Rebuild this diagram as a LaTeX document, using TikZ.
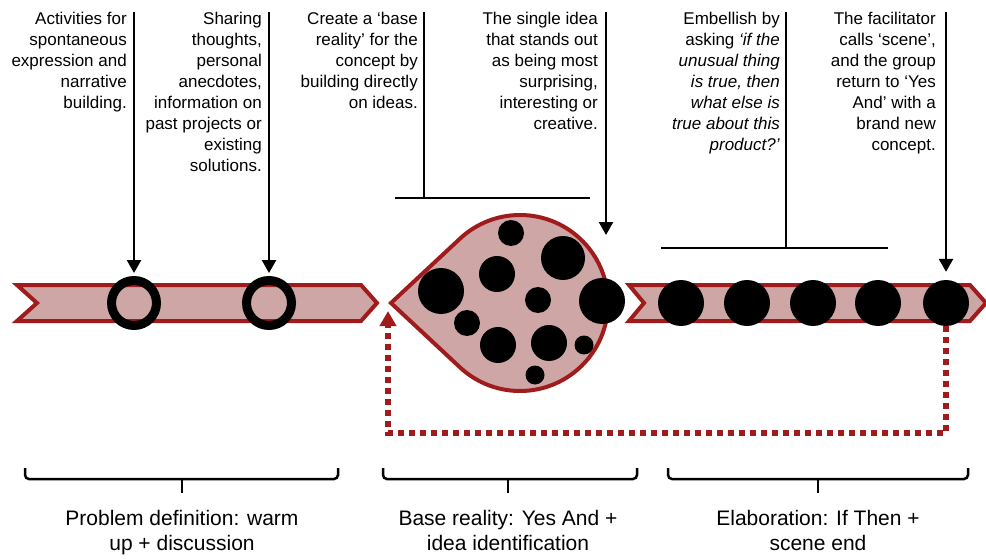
\documentclass[tikz,border=0pt]{standalone}
\usepackage{fontspec}
\setmainfont{Liberation Sans}
\usepackage{xcolor}
\usetikzlibrary{arrows.meta, positioning, calc}
\definecolor{stagered}{RGB}{160,28,28}
\definecolor{stagefill}{RGB}{206,166,166}

\begin{document}
\begin{tikzpicture}[
    x=1pt, y=-1pt,
    >={Triangle[width=14pt,length=13pt]},
    note/.style={align=right, inner sep=0pt, font=\fontsize{17}{21}\selectfont},
    phase/.style={align=center, inner sep=0pt, font=\fontsize{21}{25}\selectfont},
    pointer/.style={draw=black, line width=2.5pt},
    band/.style={draw=stagered, fill=stagefill, line width=4pt, line join=miter},
    ring/.style={circle, draw=black, line width=9pt, minimum size=45pt, inner sep=0pt},
    idea/.style={circle, fill=black, minimum size=46pt, inner sep=0pt},
    brace/.style={draw=black, line width=2.5pt, rounded corners=4pt},
    return/.style={draw=stagered, line width=5.5pt, dash pattern=on 5.5pt off 5.5pt, -{Triangle[width=16pt,length=15pt]}}
]
    \useasboundingbox (0,0) rectangle (986,559);

    % ==================== BANDS ====================
    % Problem definition band
    \draw[band] (17,285) -- (361,285) -- (377,303) -- (361,321) -- (17,321) -- (37,303) -- cycle;
    % Elaboration band
    \draw[band] (629,285) -- (970,285) -- (986,303) -- (970,321) -- (629,321) -- (644,303) -- cycle;

    % Base reality drop
    \coordinate (dropc) at (520,303);
    \coordinate (dropt) at (391,303);
    \draw[band] (dropt) -- ($(dropc)+(133:88)$) arc[start angle=133, end angle=-133, radius=88] -- cycle;

    % Ideas in the drop
    \fill (511,233) circle[radius=13];
    \fill (563,258) circle[radius=22];
    \fill (497,274) circle[radius=18];
    \fill (441,291) circle[radius=23];
    \fill (538,300) circle[radius=13];
    \fill (602,301) circle[radius=23];
    \fill (467,323) circle[radius=13];
    \fill (498,345) circle[radius=18];
    \fill (549,343) circle[radius=18];
    \fill (584,345) circle[radius=9.5];
    \fill (535,375) circle[radius=9.5];

    % ==================== STAGES ====================
    \node[ring] (r1) at (134,303) {};
    \node[ring] (r2) at (269,303) {};
    \node[idea] (d1) at (681,303) {};
    \node[idea] (d2) at (747,303) {};
    \node[idea] (d3) at (813,303) {};
    \node[idea] (d4) at (878,303) {};
    \node[idea] (d5) at (946,303) {};

    % ==================== NOTES ====================
    \coordinate (c1) at (134,12);
    \coordinate (c2) at (269,12);
    \coordinate (c3) at (424,12);
    \coordinate (c4) at (606,12);
    \coordinate (c5) at (786,12);
    \coordinate (c6) at (946,12);

    \node[note, below left=0pt and 7pt of c1] (t1) {Activities for\\spontaneous\\expression and\\narrative\\building.};
    \node[note, below left=0pt and 7pt of c2] (t2) {Sharing\\thoughts,\\personal\\anecdotes,\\information on\\past projects or\\existing\\solutions.};
    \node[note, below left=0pt and 6pt of c3] (t3) {Create a ‘base\\reality’ for the\\concept by\\building directly\\on ideas.};
    \node[note, below left=0pt and 8pt of c4] (t4) {The single idea\\that stands out\\as being most\\surprising,\\interesting or\\creative.};
    \node[note, below left=0pt and 6pt of c5] (t5) {Embellish by\\asking \textit{‘if the}\\\textit{unusual thing}\\\textit{is true, then}\\\textit{what else is}\\\textit{true about this}\\\textit{product?’}};
    \node[note, below left=0pt and 10pt of c6] (t6) {The facilitator\\calls ‘scene’,\\and the group\\return to ‘Yes\\And’ with a\\brand new\\concept.};

    % Pointers
    \coordinate (drophit) at (606,235);
    \coordinate (bar1l) at (395,198);
    \coordinate (bar1r) at (590,198);
    \coordinate (bar2l) at (661,248);
    \coordinate (bar2r) at (888,248);

    \draw[pointer, ->, shorten >=3pt] (c1) -- (r1);
    \draw[pointer, ->, shorten >=3pt] (c2) -- (r2);
    \draw[pointer] (c3) -- (c3 |- bar1l);
    \draw[pointer] (bar1l) -- (bar1r);
    \draw[pointer, ->] (c4) -- (drophit);
    \draw[pointer] (c5) -- (c5 |- bar2l);
    \draw[pointer] (bar2l) -- (bar2r);
    \draw[pointer, ->, shorten >=8pt] (c6) -- (d5);

    % Back to Yes And
    \coordinate (back) at (388,311);
    \draw[return] (d5.south) |- ($(back)+(0,122)$) -- (back);

    % ==================== PHASES ====================
    \coordinate (bt1) at (182,493);
    \coordinate (bt2) at (508,493);
    \coordinate (bt3) at (818,493);

    \draw[brace] (25,468) -- (25,479) -- (338,479) -- (338,468);
    \draw[brace] (182,479) -- (bt1);
    \draw[brace] (383,468) -- (383,479) -- (637,479) -- (637,468);
    \draw[brace] (508,479) -- (bt2);
    \draw[brace] (668,468) -- (668,479) -- (968,479) -- (968,468);
    \draw[brace] (818,479) -- (bt3);

    \node[phase, below=17pt of bt1] (p1) {Problem definition: warm\\up + discussion};
    \node[phase, below=17pt of bt2] (p2) {Base reality: Yes And +\\idea identification};
    \node[phase, below=17pt of bt3] (p3) {Elaboration: If Then +\\scene end};
\end{tikzpicture}
\end{document}
